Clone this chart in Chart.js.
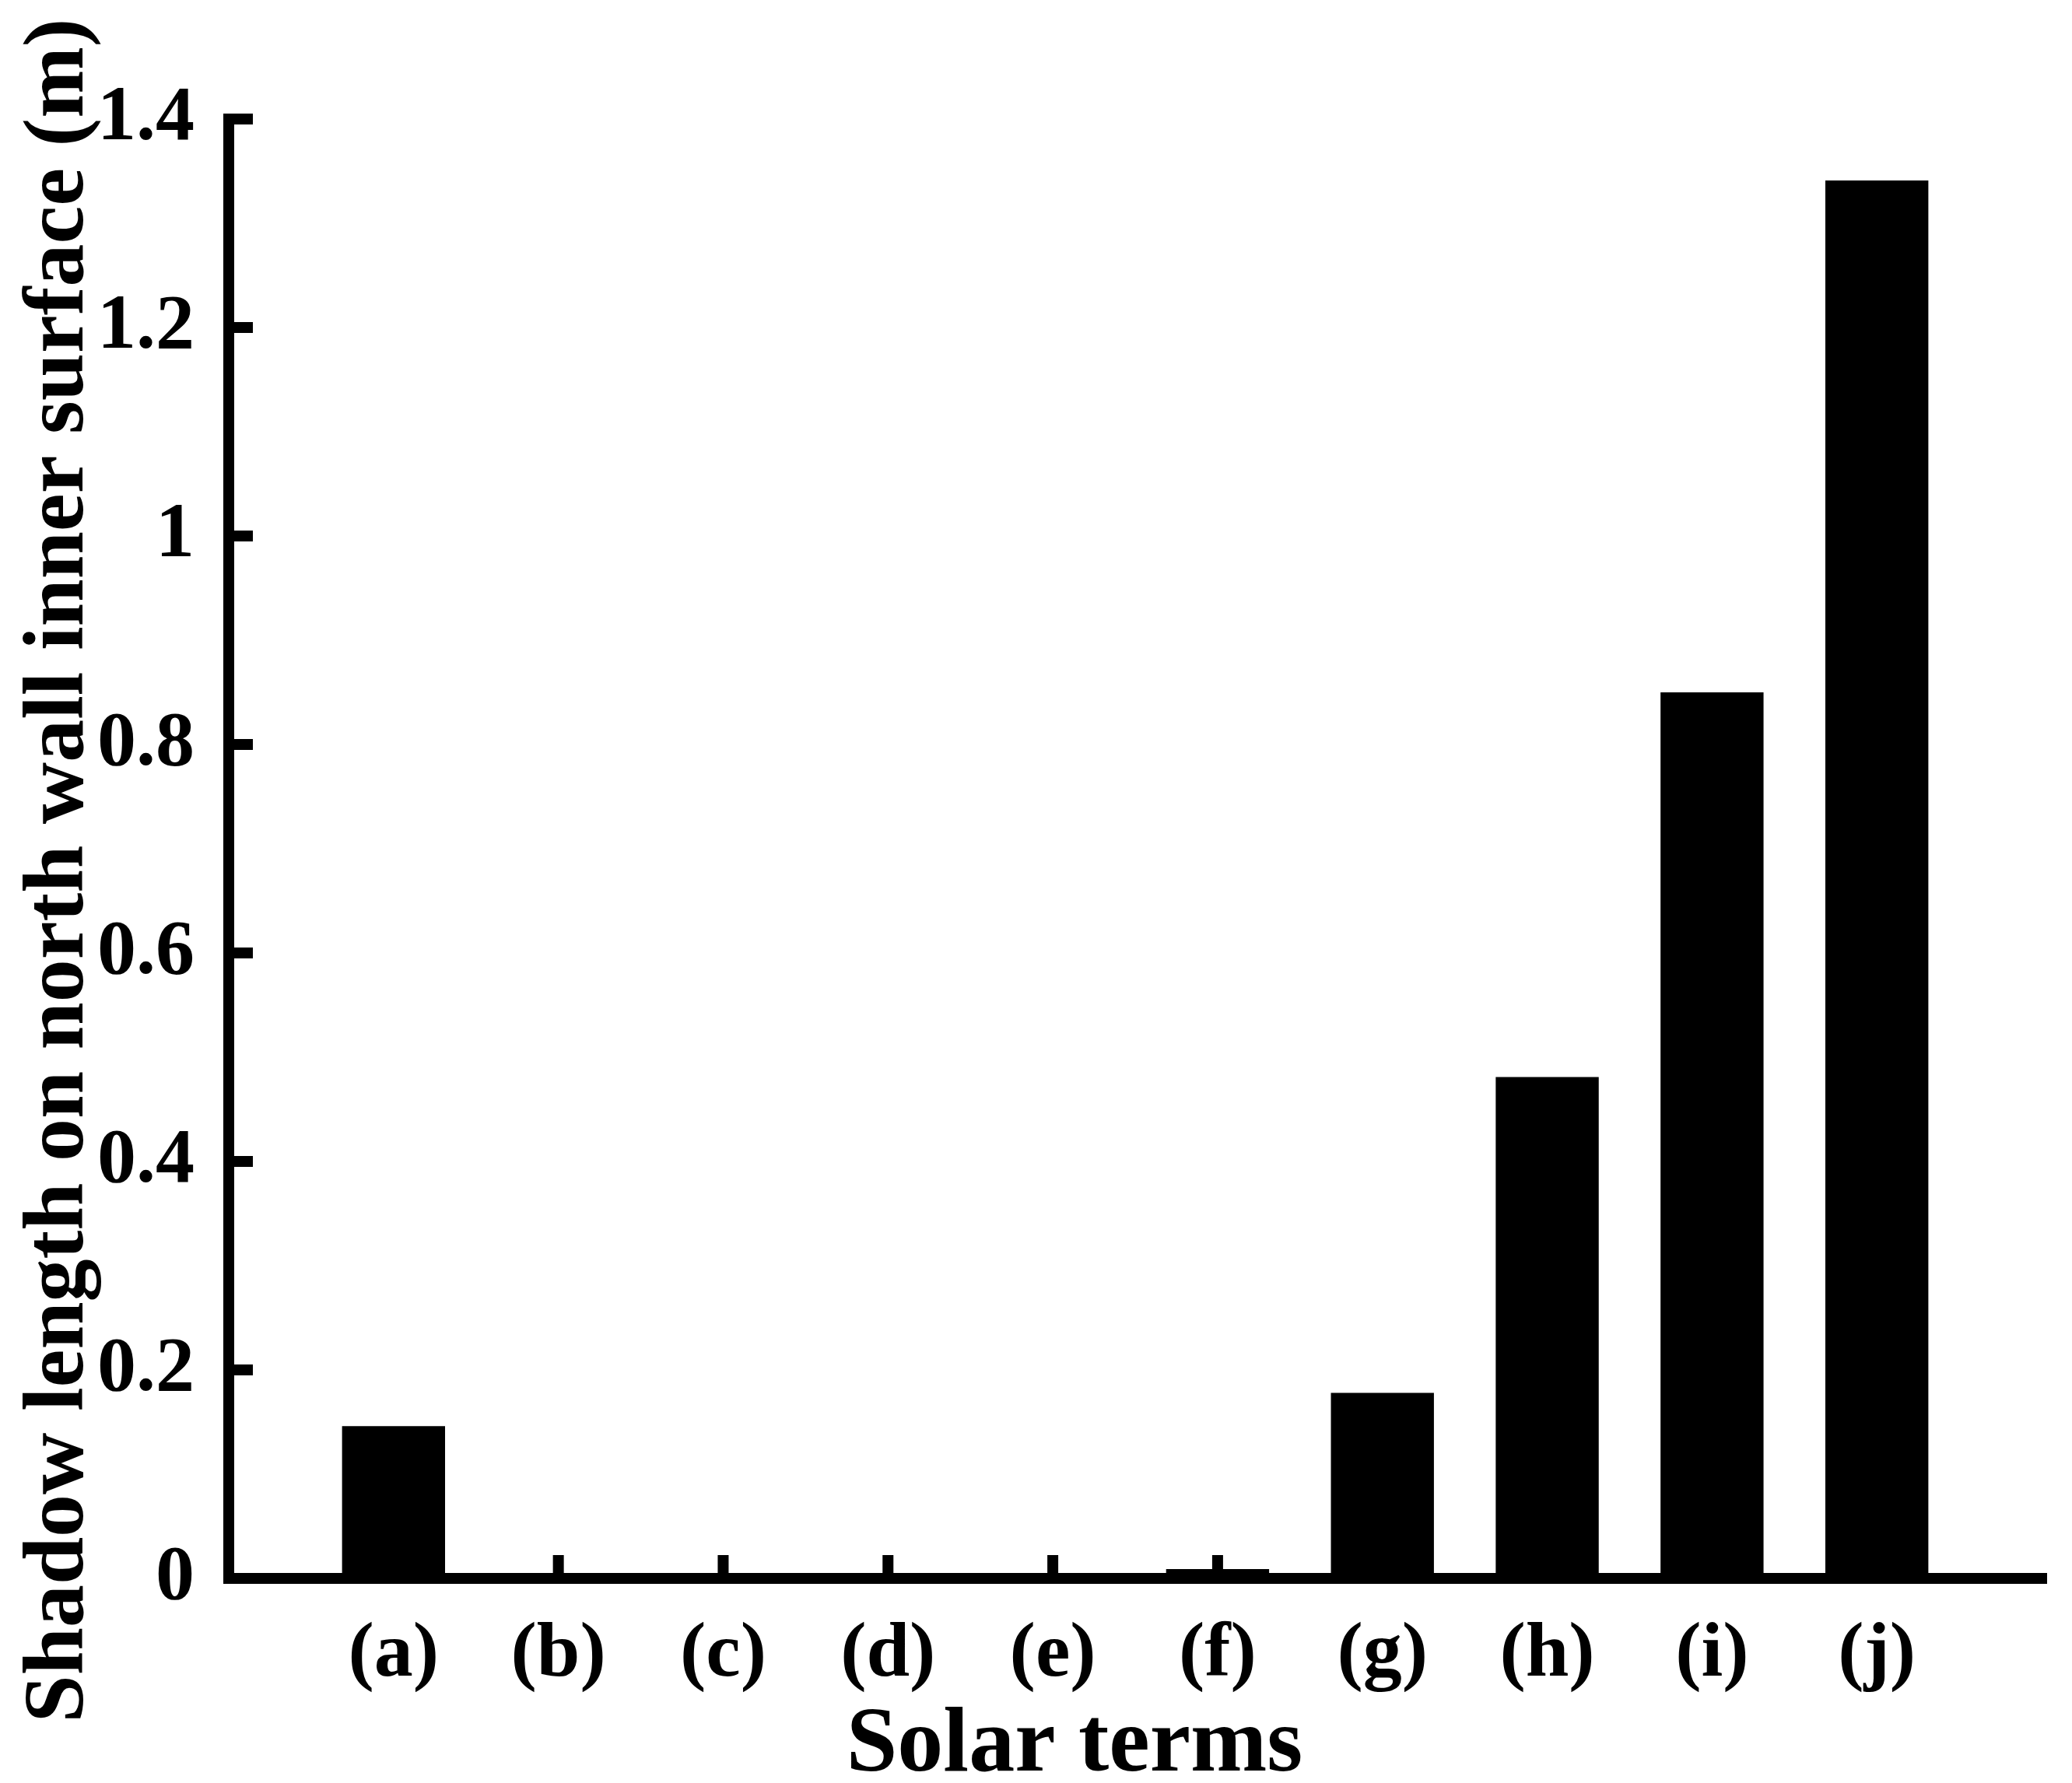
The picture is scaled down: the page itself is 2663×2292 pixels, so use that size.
<!DOCTYPE html>
<html><head><meta charset="utf-8">
<script src="https://cdn.jsdelivr.net/npm/chart.js@4.4.1/dist/chart.umd.min.js"></script>
<style>html,body{margin:0;padding:0;background:#fff;overflow:hidden}</style>
</head><body>
<canvas id="c" width="2663" height="2292" style="width:2663px;height:2292px;display:block"></canvas>
<script>
const categories = ['(a)','(b)','(c)','(d)','(e)','(f)','(g)','(h)','(i)','(j)'];
const shadowLength = [0.146, 0, 0, 0, 0, 0.009, 0.178, 0.481, 0.850, 1.341];
const yTicks = [0, 0.2, 0.4, 0.6, 0.8, 1.0, 1.2, 1.4];
const xTitle = 'Solar terms';
const yTitle = 'Shadow length on north wall inner surface (m)';

const labels = [''].concat(categories, ['']);
const values = [null].concat(shadowLength, [null]);
const FONT = '"Liberation Serif", "Times New Roman", serif';

const innerTicks = {
  id: 'innerTicks',
  afterDraw(chart) {
    const {ctx, chartArea, scales: {x, y}} = chart;
    ctx.save();
    ctx.fillStyle = '#000';
    const w = 14;
    y.ticks.forEach(t => {
      const py = y.getPixelForValue(t.value);
      ctx.fillRect(chartArea.left, py - w / 2, 31, w);
    });
    categories.forEach((c, i) => {
      const px = x.getPixelForValue(i + 1);
      ctx.fillRect(px - w / 2, chartArea.bottom - 30, w, 30);
    });
    ctx.restore();
  }
};

const titles = {
  id: 'titles',
  afterDraw(chart) {
    const {ctx, chartArea} = chart;
    ctx.save();
    ctx.fillStyle = '#000';
    ctx.textAlign = 'center';
    ctx.textBaseline = 'alphabetic';
    ctx.font = 'bold 118px ' + FONT;
    ctx.fillText(xTitle, chartArea.left + 1087, chartArea.bottom + 247);
    ctx.translate(106, chartArea.top + 966);
    ctx.rotate(-Math.PI / 2);
    ctx.font = 'bold 110px ' + FONT;
    ctx.fillText(yTitle, 0, 0);
    ctx.restore();
  }
};

function draw() {
  new Chart(document.getElementById('c'), {
    type: 'bar',
    data: {
      labels: labels,
      datasets: [{
        data: values,
        backgroundColor: '#000',
        borderWidth: 0,
        categoryPercentage: 0.625,
        barPercentage: 1.0
      }]
    },
    options: {
      responsive: false,
      devicePixelRatio: 1,
      animation: false,
      layout: { padding: { left: 0, top: 153, right: 21, bottom: 0 } },
      plugins: { legend: { display: false }, tooltip: { enabled: false } },
      scales: {
        x: {
          type: 'category',
          offset: false,
          grid: { display: false, drawTicks: false, tickLength: 0, lineWidth: 14 },
          border: { display: true, width: 14, color: '#000' },
          ticks: {
            color: '#000',
            font: { family: FONT, weight: 'bold', size: 100, lineHeight: 1.2 },
            padding: 39,
            maxRotation: 0,
            autoSkip: false
          },
          afterFit: s => { s.height = 263; }
        },
        y: {
          min: 0,
          max: 1.4,
          grid: { display: false, drawTicks: false, tickLength: 0, lineWidth: 14 },
          border: { display: true, width: 14, color: '#000' },
          afterBuildTicks: s => { s.ticks = yTicks.map(v => ({ value: v })); },
          ticks: {
            color: '#000',
            font: { family: FONT, weight: 'bold', size: 100, lineHeight: 1.2 },
            padding: 44,
            callback: v => String(+Number(v).toFixed(1))
          },
          afterFit: s => { s.width = 294; }
        }
      }
    },
    plugins: [innerTicks, titles]
  });
}

if (document.fonts && document.fonts.load) {
  Promise.all([
    document.fonts.load('bold 100px "Liberation Serif"'),
    document.fonts.load('bold 118px "Liberation Serif"')
  ]).then(draw, draw);
} else {
  draw();
}
</script>
</body></html>
